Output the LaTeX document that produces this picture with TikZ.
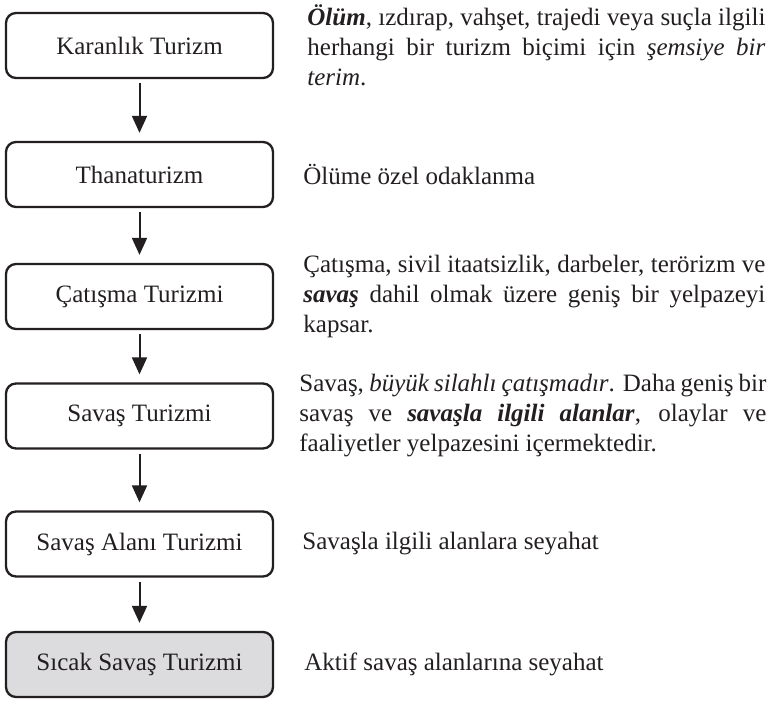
\documentclass[tikz,border=0pt]{standalone}
\usepackage{fontspec}
\setmainfont{Liberation Serif}
\usetikzlibrary{arrows.meta,positioning}
\definecolor{ink}{HTML}{231F20}
\definecolor{hot}{HTML}{DCDCDE}
\tikzset{
  stage/.style={draw=ink, line width=1.15pt, rounded corners=5pt,
    minimum width=133.5pt, minimum height=32.5pt, inner sep=0pt,
    text=ink, font=\fontsize{12.5}{15}\selectfont},
  note/.style={anchor=west, inner sep=0pt, align=justify, text=ink,
    font=\fontsize{12.5}{15}\selectfont},
  flow/.style={draw=ink, line width=1pt, -{Triangle[length=8.5pt,width=7.5pt]},
    shorten <=2pt, shorten >=4pt}
}
\newcommand{\bi}[1]{\textbf{\textit{#1}}}

\begin{document}
\begin{tikzpicture}[x=0.5pt,y=-0.5pt]
  \useasboundingbox (0,0) rectangle (767,701);

  % Stages
  \node[stage] (karanlik) at (139.5,45.5) {Karanlık Turizm};
  \node[stage] (thana) at (139.5,174.5) {Thanaturizm};
  \node[stage] (catisma) at (139.5,296.5) {Çatışma Turizmi};
  \node[stage] (savas) at (139.5,416) {Savaş Turizmi};
  \node[stage] (alan) at (139.5,544) {Savaş Alanı Turizmi};
  \node[stage,fill=hot] (sicak) at (139.5,664.5) {Sıcak Savaş Turizmi};

  % Arrows
  \foreach \a/\b in {karanlik/thana, thana/catisma, catisma/savas, savas/alan, alan/sicak} {
    \draw[flow] (\a) -- (\b);
  }

  % Descriptions
  \node[note,text width=229pt] (dKaranlik) at (307,45.5)
    {\bi{Ölüm}, ızdırap, vahşet, trajedi veya suçla ilgili\linebreak
     herhangi bir turizm biçimi için \textit{şemsiye bir}\linebreak
     \textit{terim}.};
  \node[note] (dThana) at (303,174.5) {Ölüme özel odaklanma};
  \node[note,text width=231pt] (dCatisma) at (303,296.5)
    {Çatışma, sivil itaatsizlik, darbeler, terörizm ve\linebreak
     \bi{savaş} dahil olmak üzere geniş bir yelpazeyi\linebreak
     kapsar.};
  \node[note,text width=233.5pt] (dSavas) at (299,416)
    {Savaş, \textit{büyük silahlı çatışmadır}. Daha geniş bir\linebreak
     savaş ve \bi{savaşla ilgili alanlar}, olaylar ve\linebreak
     faaliyetler yelpazesini içermektedir.};
  \node[note] (dAlan) at (302,544) {Savaşla ilgili alanlara seyahat};
  \node[note] (dSicak) at (304,664.5) {Aktif savaş alanlarına seyahat};
\end{tikzpicture}
\end{document}
